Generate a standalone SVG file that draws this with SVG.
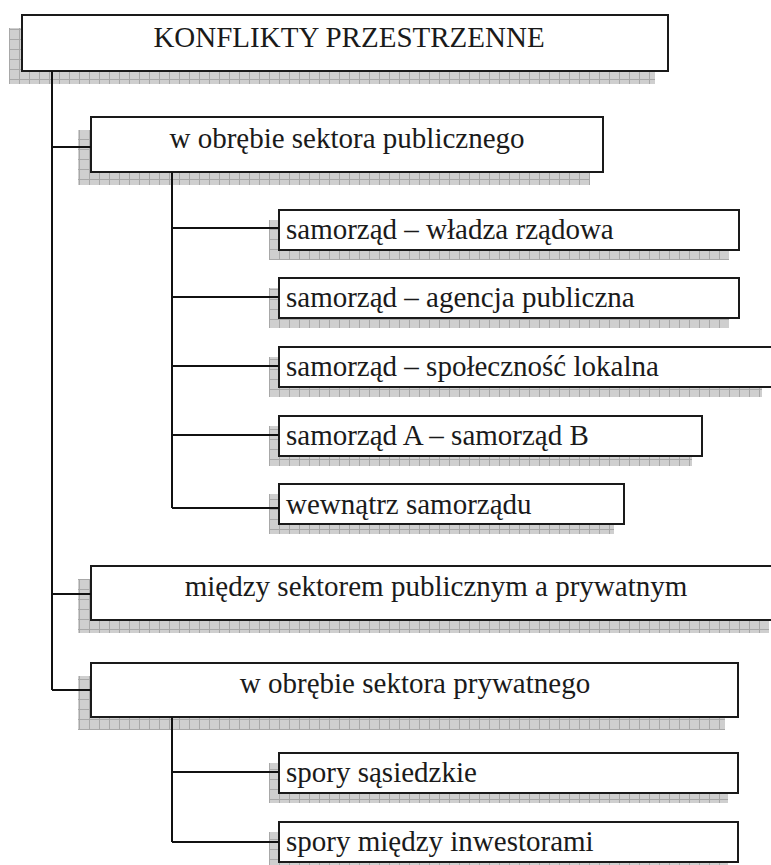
<svg xmlns="http://www.w3.org/2000/svg" width="771" height="865" viewBox="0 0 771 865">
<defs>
<pattern id="grid" patternUnits="userSpaceOnUse" x="0" y="0" width="10" height="10">
<rect width="10" height="10" fill="#cfcfcf"/>
<path d="M9.5 0V10M0 9.5H10" stroke="#a8a8a8" stroke-width="1" fill="none"/>
</pattern>
</defs>
<style>
.sh{fill:url(#grid);stroke:none}
.bx{fill:#fff;stroke:#1a1a1a;stroke-width:2}
.t{font-family:"Liberation Serif","Times New Roman",serif;font-size:29px;fill:#1a1a1a}
.c{text-anchor:middle}
.ln{stroke:#111;stroke-width:2;fill:none}
</style>
<rect width="771" height="865" fill="#fff"/>
<g id="n-root">
<rect class="sh" x="9" y="28" width="646" height="56"/>
<rect class="bx" x="22" y="15" width="646" height="56"/>
<text class="t c" x="349" y="47">KONFLIKTY PRZESTRZENNE</text>
</g>
<g id="n-publ">
<rect class="sh" x="78" y="130" width="512" height="55"/>
<rect class="bx" x="91" y="117" width="512" height="55"/>
<text class="t c" x="347" y="148">w obrębie sektora publicznego</text>
</g>
<g id="n-p1">
<rect class="sh" x="269" y="220" width="460" height="40"/>
<rect class="bx" x="279" y="210" width="460" height="40"/>
<text class="t" x="286" y="239">samorząd – władza rządowa</text>
</g>
<g id="n-p2">
<rect class="sh" x="269" y="288" width="460" height="40"/>
<rect class="bx" x="279" y="278" width="460" height="40"/>
<text class="t" x="286" y="307">samorząd – agencja publiczna</text>
</g>
<g id="n-p3">
<rect class="sh" x="269" y="357" width="493" height="40"/>
<rect class="bx" x="279" y="347" width="494" height="40"/>
<text class="t" x="286" y="376">samorząd – społeczność lokalna</text>
</g>
<g id="n-p4">
<rect class="sh" x="269" y="426" width="423" height="40"/>
<rect class="bx" x="279" y="416" width="423" height="40"/>
<text class="t" x="286" y="445">samorząd A – samorząd B</text>
</g>
<g id="n-p5">
<rect class="sh" x="269" y="494" width="345" height="40"/>
<rect class="bx" x="279" y="484" width="345" height="40"/>
<text class="t" x="286" y="514">wewnątrz samorządu</text>
</g>
<g id="n-mixed">
<rect class="sh" x="78" y="579" width="691" height="54"/>
<rect class="bx" x="91" y="566" width="691" height="54"/>
<text class="t c" x="436" y="596">między sektorem publicznym a prywatnym</text>
</g>
<g id="n-priv">
<rect class="sh" x="78" y="676" width="647" height="54"/>
<rect class="bx" x="91" y="663" width="647" height="54"/>
<text class="t c" x="415" y="693">w obrębie sektora prywatnego</text>
</g>
<g id="n-s1">
<rect class="sh" x="269" y="763" width="459" height="40"/>
<rect class="bx" x="279" y="753" width="459" height="40"/>
<text class="t" x="286" y="782">spory sąsiedzkie</text>
</g>
<g id="n-s2">
<rect class="sh" x="269" y="832" width="459" height="40"/>
<rect class="bx" x="279" y="822" width="459" height="40"/>
<text class="t" x="286" y="851">spory między inwestorami</text>
</g>
<g id="connectors" class="ln">
<path d="M52 71V690"/>
<path d="M52 147H91M52 594H91M52 690H91"/>
<path d="M172 172V508"/>
<path d="M172 228H279M172 297H279M172 366H279M172 435H279M172 508H279"/>
<path d="M172 717V842"/>
<path d="M172 772H279M172 842H279"/>
</g>
</svg>
